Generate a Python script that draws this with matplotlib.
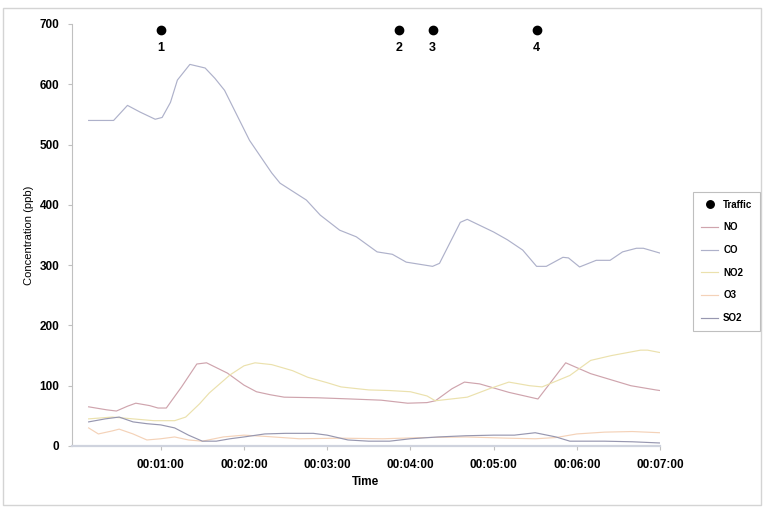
import matplotlib.pyplot as plt
from matplotlib.patches import Rectangle

# ---- data (time in seconds, concentration in ppb) ----
t_co = [8, 26, 36, 45, 56, 61, 67, 72, 81, 92, 99, 106, 124, 140, 146, 165, 175, 189,
        201, 216, 227, 237, 256, 261, 276, 281, 300, 310, 321, 331, 338, 350, 354, 362,
        374, 384, 393, 403, 408, 420]
co = [540, 540, 565, 554, 542, 545, 570, 607, 633, 627, 610, 590, 507, 453, 436, 408,
      383, 358, 347, 322, 318, 305, 298, 303, 371, 376, 355, 342, 325, 298, 298, 313,
      312, 297, 308, 308, 322, 328, 328, 320]

t_no = [8, 21, 28, 36, 42, 52, 58, 64, 75, 86, 93, 108, 120, 129, 139, 149, 173, 197,
        219, 238, 252, 258, 270, 279, 290, 311, 332, 352, 370, 399, 417, 420]
no = [65, 60, 58, 66, 71, 67, 63, 63, 98, 136, 138, 121, 101, 90, 85, 81, 80, 78,
      76, 71, 72, 75, 95, 106, 103, 89, 78, 138, 120, 100, 93, 92]

t_no2 = [8, 25, 40, 55, 70, 78, 88, 95, 110, 120, 128, 140, 155, 166, 180, 190, 210,
         225, 240, 252, 258, 281, 297, 311, 326, 335, 355, 370, 385, 406, 411, 420]
no2 = [45, 48, 45, 42, 42, 48, 70, 88, 118, 133, 138, 135, 125, 114, 105, 98, 93,
       92, 90, 83, 75, 81, 95, 106, 100, 98, 117, 142, 150, 159, 159, 155]

t_o3 = [8, 15, 25, 30, 40, 50, 60, 70, 80, 90, 105, 120, 135, 160, 190, 220, 250, 280,
        310, 330, 345, 360, 380, 400, 420]
o3 = [30, 20, 25, 28, 20, 10, 12, 15, 10, 8, 15, 18, 16, 12, 13, 12, 14, 15,
      13, 12, 14, 20, 23, 24, 22]

t_so2 = [8, 20, 30, 40, 50, 60, 70, 80, 90, 100, 110, 120, 135, 150, 170, 180, 195,
         210, 225, 240, 260, 280, 300, 315, 330, 345, 355, 380, 400, 420]
so2 = [40, 45, 48, 40, 37, 35, 30, 18, 8, 8, 12, 15, 20, 21, 21, 18, 10,
       8, 8, 12, 15, 17, 18, 18, 22, 15, 8, 8, 7, 5]

traffic_t = [60, 232, 256, 331]
traffic_labels = ['1', '2', '3', '4']
traffic_level = 690

tick_secs = [60, 120, 180, 240, 300, 360, 420]
tick_labels = ['00:01:00', '00:02:00', '00:03:00', '00:04:00', '00:05:00', '00:06:00', '00:07:00']

plt.rcParams['font.family'] = 'Liberation Sans'

fig = plt.figure(figsize=(7.64, 5.07), dpi=100)
ax = fig.add_axes([72 / 764, 61 / 507, 588 / 764, 422 / 507])

# outer frame around the whole chart
fig.patches.append(Rectangle((3 / 764, 2 / 507), 758 / 764, 497 / 507,
                             transform=fig.transFigure, fill=False,
                             edgecolor='#d4d4d4', linewidth=1.0))

ax.plot(traffic_t, [traffic_level] * len(traffic_t), 'o', color='black',
        markersize=6, linestyle='none', clip_on=False, label='Traffic')
for t, lab in zip(traffic_t, traffic_labels):
    ax.annotate(lab, (t, traffic_level), xytext=(0, -13), textcoords='offset points',
                ha='center', va='center', fontsize=9, fontweight='bold')

ax.plot(t_no, no, color='#cfa4ad', lw=0.85, label='NO')
ax.plot(t_co, co, color='#aeb1ca', lw=0.85, label='CO')
ax.plot(t_no2, no2, color='#ebe1ad', lw=0.85, label='NO2')
ax.plot(t_o3, o3, color='#f4d2b8', lw=0.85, label='O3')
ax.plot(t_so2, so2, color='#9797b0', lw=0.85, label='SO2')

ax.set_xlim(-4, 420)
ax.set_ylim(0, 700)
ax.set_yticks(range(0, 701, 100))
ax.set_xticks(tick_secs)
ax.set_xticklabels(tick_labels)

for side in ['top', 'right']:
    ax.spines[side].set_visible(False)
ax.spines['left'].set_color('#c0c0c0')
ax.spines['bottom'].set_color('#cfd3de')
ax.spines['bottom'].set_linewidth(1.6)
ax.tick_params(axis='both', direction='out', length=3, color='#c0c0c0',
               labelsize=8.5, pad=6)
for lab in ax.get_xticklabels() + ax.get_yticklabels():
    lab.set_fontweight('bold')

ax.set_xlabel('Time', fontsize=8.5, fontweight='bold', labelpad=4)
ax.set_ylabel('Concentration (ppb)', fontsize=8, labelpad=4)

leg = fig.legend(loc='upper left', bbox_to_anchor=(693 / 764, 1 - 192 / 507),
                 borderaxespad=0, frameon=True, fancybox=False, fontsize=7,
                 handlelength=1.8, handletextpad=0.5, labelspacing=1.3,
                 borderpad=0.8, markerscale=0.9)
leg.get_frame().set_edgecolor('#b0b0b0')
leg.get_frame().set_linewidth(0.8)
for text in leg.get_texts():
    text.set_fontweight('bold')

fig.savefig('out.png', dpi=100)
